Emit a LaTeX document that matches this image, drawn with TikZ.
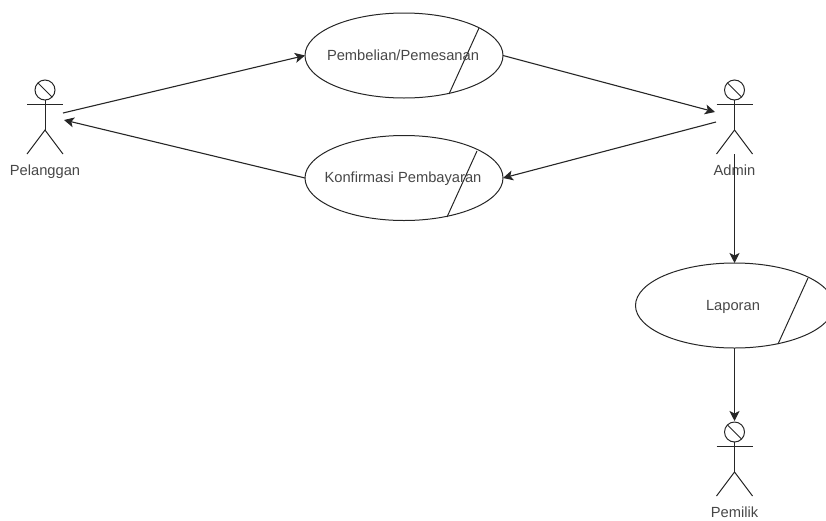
\documentclass[tikz,border=0pt]{standalone}
\usepackage{fontspec}
\setmainfont{Liberation Sans}
\usetikzlibrary{shapes.geometric,arrows.meta}
\definecolor{inkline}{gray}{0.15}
\definecolor{inktext}{gray}{0.28}
\tikzset{
  usecase/.style={draw=inkline,ellipse,line width=1pt,minimum width=198pt,minimum height=85pt,inner sep=0pt,outer sep=0pt},
  label/.style={text=inktext,font=\fontsize{14.7pt}{16pt}\selectfont,inner sep=0pt,anchor=base},
  line/.style={draw=inkline,line width=1pt},
  flow/.style={draw=inkline,line width=1.1pt,->}
}
\begin{document}
\begin{tikzpicture}[>={Stealth[length=10pt,width=10pt,inset=2.5pt]},x=1pt,y=-1pt]
  \clip (0,0) rectangle (826,520);
  % actors
  \foreach \x/\y/\name/\txt in {45/90/pelanggan/Pelanggan,734.5/90/admin/Admin,734.5/432/pemilik/Pemilik}{
    \draw[line] (\x,\y) circle [radius=10];
    \draw[line] (\x-7,\y-7) -- (\x+7,\y+7);
    \draw[line] (\x,\y+10) -- (\x,\y+40);
    \draw[line] (\x-18,\y+14.5) -- (\x+18,\y+14.5);
    \draw[line] (\x-18,\y+64) -- (\x,\y+40) -- (\x+18,\y+64);
    \node[label] (\name) at (\x,\y+85.5) {\txt};
  }
  % use cases
  \node[usecase] (pembelian) at (404,55.5) {};
  \node[usecase] (konfirmasi) at (404,178) {};
  \node[usecase] (laporan) at (734.5,305.5) {};
  \draw[line] (479,28) -- (449,94);
  \draw[line] (477,151) -- (447,217);
  \draw[line] (808,278) -- (778,344);
  \node[label] (pembelianText) at (403,60) {Pembelian/Pemesanan};
  \node[label] (konfirmasiText) at (403,182.5) {Konfirmasi Pembayaran};
  \node[label] (laporanText) at (733,310.5) {Laporan};
  % free ends at the actors
  \coordinate (pelangganOut) at (63,113);
  \coordinate (pelangganIn) at (64,120);
  \coordinate (adminIn) at (715,112);
  \coordinate (adminOut) at (716,122);
  \coordinate (adminDown) at (734.5,154);
  \coordinate (pemilikIn) at (734.5,421);
  \draw[flow] (pelangganOut) -- (pembelian.west);
  \draw[flow] (konfirmasi.west) -- (pelangganIn);
  \draw[flow] (pembelian.east) -- (adminIn);
  \draw[flow] (adminOut) -- (konfirmasi.east);
  \draw[flow] (adminDown) -- (laporan.north);
  \draw[flow] (laporan.south) -- (pemilikIn);
\end{tikzpicture}
\end{document}
